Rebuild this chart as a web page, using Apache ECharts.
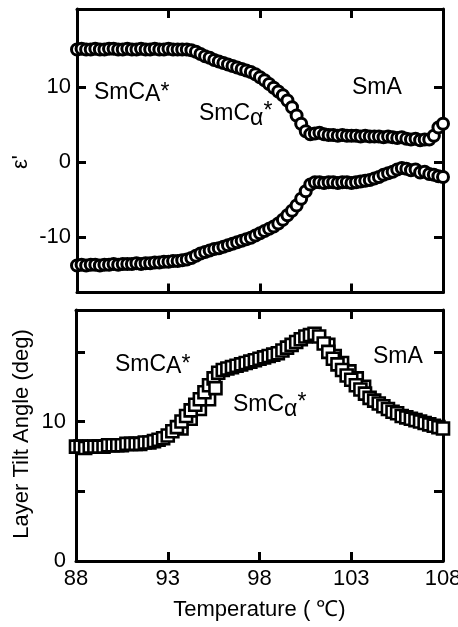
<!DOCTYPE html>
<html>
<head>
<meta charset="utf-8">
<script src="https://cdn.jsdelivr.net/npm/echarts@6/dist/echarts.min.js"></script>
<style>
  html, body { margin: 0; padding: 0; background: #fff; }
  #chart { width: 458px; height: 627px; }
</style>
</head>
<body>
<div id="chart"></div>
<script>
// Temperature axis (°C)
const temperatureTicks = [88, 93, 98, 103, 108];
const temperatureInnerTicks = [93, 98, 103];

// Dielectric constant ε' — upper branch [T, ε']
const epsUpper = [
  [88.00, 15.0], [88.25, 15.1], [88.50, 15.0], [88.75, 15.0], [89.00, 15.1], [89.25, 15.0],
  [89.50, 15.0], [89.75, 15.1], [90.00, 15.1], [90.25, 15.0], [90.50, 15.0], [90.75, 15.1],
  [91.00, 15.0], [91.25, 15.0], [91.50, 15.1], [91.75, 15.0], [92.00, 15.0], [92.25, 15.1],
  [92.50, 15.0], [92.75, 15.0], [93.00, 15.1], [93.25, 15.0], [93.50, 15.0], [93.75, 15.0],
  [94.00, 15.0], [94.25, 14.9], [94.50, 14.7], [94.75, 14.4], [95.00, 14.1], [95.25, 13.9],
  [95.50, 13.6], [95.75, 13.4], [96.00, 13.2], [96.25, 13.0], [96.50, 12.8], [96.75, 12.6],
  [97.00, 12.4], [97.25, 12.2], [97.50, 12.0], [97.75, 11.7], [98.00, 11.3], [98.25, 10.9],
  [98.50, 10.4], [98.75, 9.9], [99.00, 9.4], [99.25, 8.9], [99.50, 8.2], [99.75, 7.3],
  [100.00, 6.2], [100.25, 5.1], [100.50, 4.1], [100.75, 3.7], [101.00, 3.8], [101.25, 3.9],
  [101.50, 3.7], [101.75, 3.6], [102.00, 3.6], [102.25, 3.5], [102.50, 3.6], [102.75, 3.5],
  [103.00, 3.5], [103.25, 3.5], [103.50, 3.4], [103.75, 3.5], [104.00, 3.4], [104.25, 3.4],
  [104.50, 3.4], [104.75, 3.3], [105.00, 3.4], [105.25, 3.3], [105.50, 3.2], [105.75, 3.3],
  [106.00, 3.1], [106.25, 3.0], [106.50, 3.1], [106.75, 2.9], [107.00, 3.0], [107.25, 3.0],
  [107.50, 3.5], [107.75, 4.6], [108.00, 5.1]
];

// Dielectric constant ε' — lower branch [T, ε']
const epsLower = [
  [88.00, -13.8], [88.25, -13.7], [88.50, -13.8], [88.75, -13.7], [89.00, -13.7], [89.25, -13.8],
  [89.50, -13.7], [89.75, -13.7], [90.00, -13.6], [90.25, -13.7], [90.50, -13.6], [90.75, -13.6],
  [91.00, -13.6], [91.25, -13.5], [91.50, -13.6], [91.75, -13.5], [92.00, -13.5], [92.25, -13.4],
  [92.50, -13.4], [92.75, -13.3], [93.00, -13.3], [93.25, -13.2], [93.50, -13.2], [93.75, -13.1],
  [94.00, -13.0], [94.25, -12.8], [94.50, -12.5], [94.75, -12.2], [95.00, -12.0], [95.25, -11.8],
  [95.50, -11.6], [95.75, -11.5], [96.00, -11.3], [96.25, -11.1], [96.50, -10.9], [96.75, -10.7],
  [97.00, -10.5], [97.25, -10.3], [97.50, -10.1], [97.75, -9.8], [98.00, -9.5], [98.25, -9.2],
  [98.50, -8.9], [98.75, -8.6], [99.00, -8.2], [99.25, -7.7], [99.50, -7.1], [99.75, -6.5],
  [100.00, -5.8], [100.25, -4.9], [100.50, -3.9], [100.75, -3.0], [101.00, -2.7], [101.25, -2.7],
  [101.50, -2.8], [101.75, -2.7], [102.00, -2.7], [102.25, -2.8], [102.50, -2.7], [102.75, -2.7],
  [103.00, -2.8], [103.25, -2.7], [103.50, -2.6], [103.75, -2.5], [104.00, -2.4], [104.25, -2.2],
  [104.50, -2.0], [104.75, -1.7], [105.00, -1.5], [105.25, -1.3], [105.50, -1.0], [105.75, -0.8],
  [106.00, -0.9], [106.25, -1.1], [106.50, -1.0], [106.75, -1.4], [107.00, -1.3], [107.25, -1.6],
  [107.50, -1.7], [107.75, -1.9], [108.00, -2.0]
];

// Layer tilt angle (deg) [T, angle]
const tiltAngle = [
  [88.00, 8.2], [88.25, 8.2], [88.50, 8.1], [88.75, 8.2], [89.00, 8.2], [89.25, 8.2],
  [89.50, 8.2], [89.75, 8.3], [90.00, 8.3], [90.25, 8.3], [90.50, 8.3], [90.75, 8.4],
  [91.00, 8.4], [91.25, 8.4], [91.50, 8.4], [91.75, 8.5], [92.00, 8.5], [92.25, 8.6],
  [92.50, 8.7], [92.75, 8.8], [93.75, 9.5], [94.25, 10.2], [94.75, 10.9], [95.25, 11.6],
  [93.00, 9.0], [93.25, 9.3], [93.50, 9.6], [93.75, 10.0], [94.00, 10.4], [94.25, 10.8],
  [94.50, 11.2], [94.75, 11.6], [95.00, 12.1], [95.25, 12.6], [95.50, 13.1], [95.75, 13.5],
  [95.60, 12.4],
  [96.00, 13.7], [96.25, 13.8], [96.50, 13.9], [96.75, 14.0], [97.00, 14.1], [97.25, 14.2],
  [97.50, 14.3], [97.75, 14.4], [98.00, 14.5], [98.25, 14.6], [98.50, 14.7], [98.75, 14.8],
  [99.00, 14.9], [99.25, 15.1], [99.50, 15.3], [99.75, 15.5], [100.00, 15.7], [100.25, 15.9],
  [100.50, 16.1], [100.75, 16.2], [101.00, 16.3], [101.25, 16.1],
  [101.75, 15.5], [102.10, 14.7], [102.50, 14.2], [102.90, 13.6], [103.30, 13.1], [103.70, 12.5],
  [101.50, 15.6], [101.75, 15.0], [102.00, 14.5], [102.25, 14.1], [102.50, 13.7], [102.75, 13.3],
  [103.00, 13.0], [103.25, 12.6], [103.50, 12.3], [103.75, 12.0], [104.00, 11.7], [104.25, 11.5],
  [104.50, 11.3], [104.75, 11.1], [105.00, 10.9], [105.25, 10.7], [105.50, 10.6], [105.75, 10.4],
  [106.00, 10.3], [106.25, 10.2], [106.50, 10.1], [106.75, 10.0], [107.00, 9.9], [107.25, 9.8],
  [107.50, 9.7], [107.75, 9.6], [108.00, 9.5]
];

// Tick values
const epsTicks = [-10, 0, 10];
const tiltTicks = [5, 10, 15];
const tiltLabels = [0, 10];

const FONT = '"Liberation Sans", Arial, Helvetica, sans-serif';
const BLACK = '#000';

function frameAxis(extra) {
  return Object.assign({
    type: 'value',
    splitLine: { show: false },
    axisLine: { show: true, onZero: false, lineStyle: { color: BLACK, width: 3 } },
    axisTick: { show: true, inside: true, length: 9, lineStyle: { color: BLACK, width: 3 } },
    axisLabel: { show: false }
  }, extra);
}

function tickSet(values) {
  return { show: true, inside: true, length: 9, lineStyle: { color: BLACK, width: 3 }, customValues: values };
}

const labelStyle = { color: BLACK, fontSize: 22, fontFamily: FONT };

// open markers: white fill, heavy black outline
const circleStyle = { color: '#fff', borderColor: BLACK, borderWidth: 3, opacity: 1 };
const squareStyle = { color: '#fff', borderColor: BLACK, borderWidth: 2.6, opacity: 1 };

const chart = echarts.init(document.getElementById('chart'), null, { renderer: 'canvas' });

const PH = 23;
const rich = {
  m: { fontSize: PH, fontFamily: FONT, color: BLACK },
  subA: { fontSize: PH, fontFamily: FONT, color: BLACK, padding: [4, 0, 0, 0] },
  subAlpha: { fontSize: PH, fontFamily: FONT, color: BLACK, padding: [10, 0, 0, 0] },
  star: { fontSize: PH, fontFamily: FONT, color: BLACK },
  starUp: { fontSize: PH, fontFamily: FONT, color: BLACK, padding: [0, 0, 4, 0] }
};

function phaseText(x, y, text) {
  return {
    type: 'text', x: x, y: y, z: 100,
    style: { text: text, rich: rich, align: 'left', verticalAlign: 'middle', fill: BLACK, fontSize: PH, fontFamily: FONT }
  };
}

chart.setOption({
  animation: false,
  backgroundColor: '#fff',
  grid: [
    { left: 77, right: 15, top: 9, bottom: 334.5, outerBoundsMode: 'none' },
    { left: 76, right: 15, top: 310, bottom: 66, outerBoundsMode: 'none' }
  ],
  xAxis: [
    frameAxis({ gridIndex: 0, position: 'bottom', min: 88, max: 108, axisTick: tickSet(temperatureInnerTicks) }),
    frameAxis({ gridIndex: 0, position: 'top', min: 88, max: 108, axisTick: tickSet(temperatureInnerTicks) }),
    frameAxis({
      gridIndex: 1, position: 'bottom', min: 88, max: 108,
      axisTick: tickSet(temperatureInnerTicks),
      axisLabel: Object.assign({ show: true, margin: 7, customValues: temperatureTicks, showMinLabel: true, showMaxLabel: true }, labelStyle),
      name: 'Temperature ( \u2103)', nameLocation: 'middle', nameGap: 38,
      nameTextStyle: { color: BLACK, fontSize: 22, fontFamily: FONT }
    }),
    frameAxis({ gridIndex: 1, position: 'top', min: 88, max: 108, axisTick: tickSet(temperatureInnerTicks) })
  ],
  yAxis: [
    frameAxis({
      gridIndex: 0, position: 'left', min: -17.4, max: 20.4,
      axisTick: tickSet(epsTicks),
      axisLabel: Object.assign({ show: true, margin: 6, customValues: epsTicks }, labelStyle)
    }),
    frameAxis({ gridIndex: 0, position: 'right', min: -17.4, max: 20.4, axisTick: tickSet(epsTicks) }),
    frameAxis({
      gridIndex: 1, position: 'left', min: 0, max: 18,
      axisTick: tickSet(tiltTicks),
      axisLabel: Object.assign({ show: true, margin: 10, customValues: tiltLabels, showMinLabel: true }, labelStyle)
    }),
    frameAxis({ gridIndex: 1, position: 'right', min: 0, max: 18, axisTick: tickSet(tiltTicks) })
  ],
  series: [
    {
      type: 'scatter', xAxisIndex: 0, yAxisIndex: 0, data: epsUpper, clip: false,
      symbol: 'circle', symbolSize: 11, itemStyle: circleStyle, silent: true
    },
    {
      type: 'scatter', xAxisIndex: 0, yAxisIndex: 0, data: epsLower, clip: false,
      symbol: 'circle', symbolSize: 11, itemStyle: circleStyle, silent: true
    },
    {
      type: 'scatter', xAxisIndex: 2, yAxisIndex: 2, data: tiltAngle, clip: false,
      symbol: 'rect', symbolSize: 12, itemStyle: squareStyle, silent: true
    }
  ],
  graphic: [
    {
      type: 'text', x: 21, y: 162, rotation: Math.PI / 2,
      style: { text: "\u03b5'", fill: BLACK, fontSize: 22, fontFamily: FONT, align: 'center', verticalAlign: 'middle' }
    },
    {
      type: 'text', x: 22, y: 434, rotation: Math.PI / 2,
      style: { text: 'Layer Tilt Angle (deg)', fill: BLACK, fontSize: 22, fontFamily: FONT, align: 'center', verticalAlign: 'middle' }
    },
    phaseText(94, 93, '{m|SmC}{subA|A}{star|*}'),
    phaseText(199, 114, '{m|SmC}{subAlpha|\u03b1}{starUp|*}'),
    phaseText(352, 88, '{m|SmA}'),
    phaseText(115, 365, '{m|SmC}{subA|A}{star|*}'),
    phaseText(233, 405, '{m|SmC}{subAlpha|\u03b1}{starUp|*}'),
    phaseText(373, 357, '{m|SmA}')
  ]
});
</script>
</body>
</html>
